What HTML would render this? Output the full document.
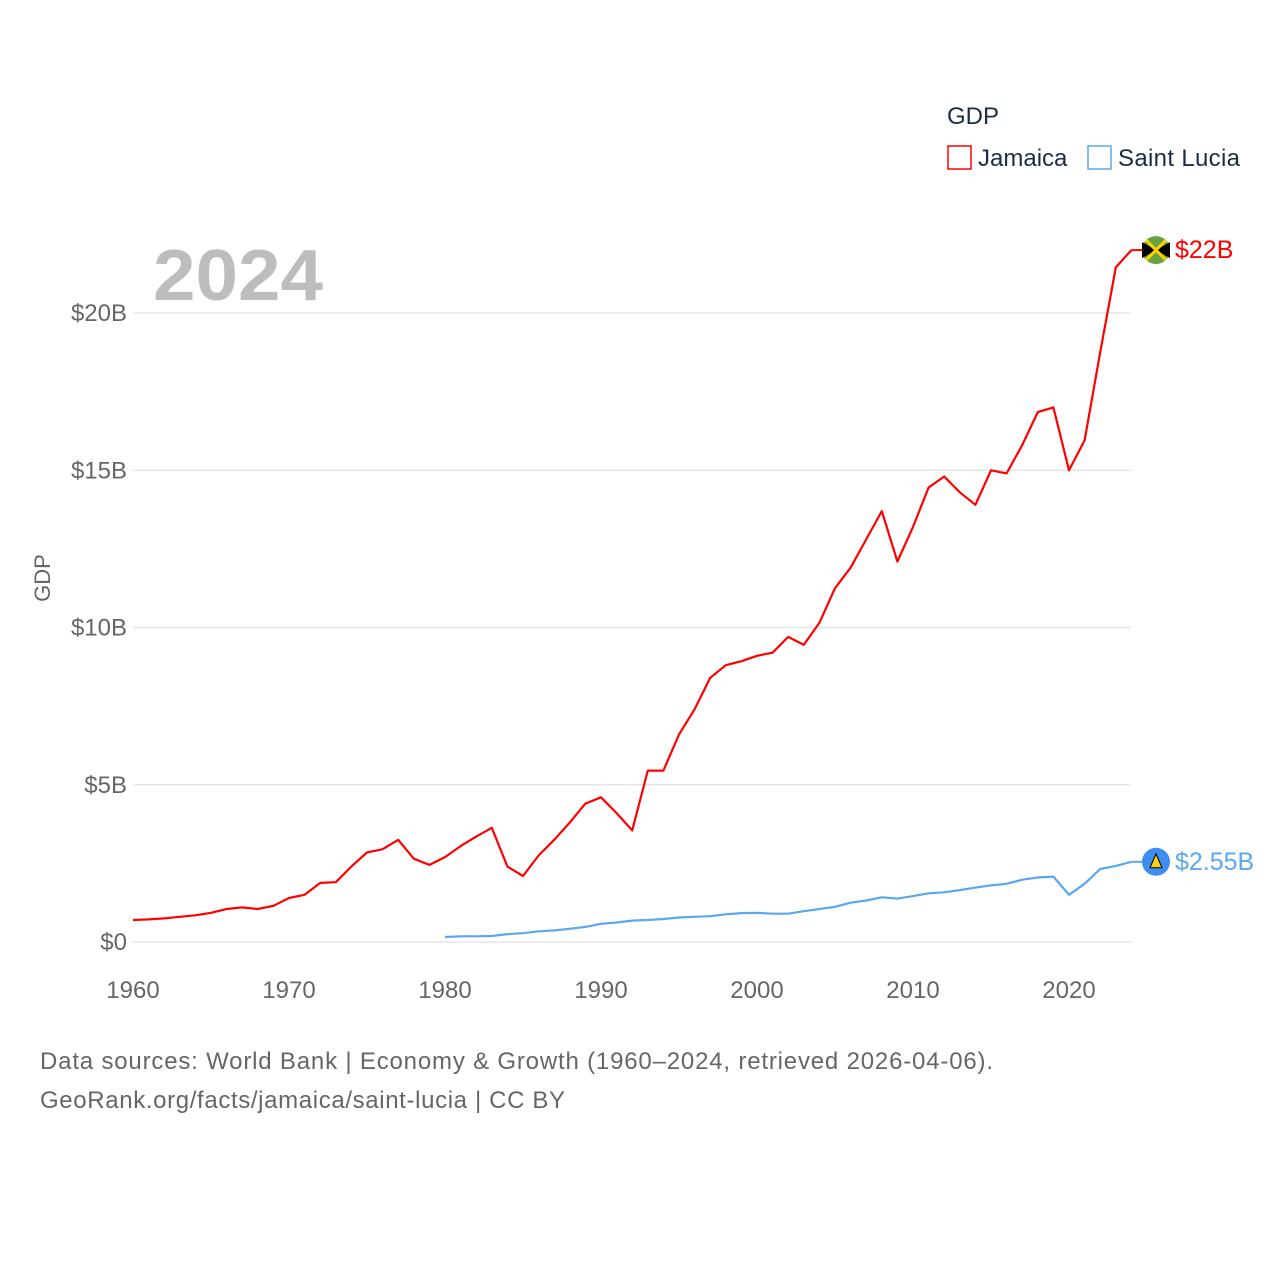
<!DOCTYPE html>
<html><head><meta charset="utf-8"><style>
body{margin:0;background:#fff;font-family:"Liberation Sans",sans-serif;}
svg text{font-family:"Liberation Sans",sans-serif;}
</style></head><body>
<svg width="1280" height="1280" viewBox="0 0 1280 1280">
<g id="grid"></g>
<g id="yt"></g>
<g id="xt"></g>
<text x="153" y="300" font-size="72" font-weight="bold" fill="#bdbdbd" textLength="170" lengthAdjust="spacingAndGlyphs">2024</text>
<text x="50" y="578" font-size="22" fill="#666" text-anchor="middle" transform="rotate(-90 50 578)">GDP</text>
<g id="lines"></g>
<text x="947" y="124" font-size="24" fill="#1c2b45">GDP</text>
<g><rect x="948" y="146" width="23" height="23" fill="none" stroke="#ff0000" stroke-width="1.5"/><text x="978" y="166" font-size="24" fill="#1c2b45">Jamaica</text></g>
<g><rect x="1088" y="146" width="23" height="23" fill="none" stroke="#5aa7f0" stroke-width="1.5"/><text x="1118" y="166" font-size="24" fill="#1c2b45" textLength="122">Saint Lucia</text></g>
<text x="40" y="1069" font-size="24" fill="#666" textLength="953">Data sources: World Bank | Economy &amp; Growth (1960–2024, retrieved 2026-04-06).</text>
<text x="40" y="1108" font-size="24" fill="#666" textLength="525">GeoRank.org/facts/jamaica/saint-lucia | CC BY</text>
</svg>
<script>
const jamaicaYears=[];for(let y=1960;y<=2024;y++)jamaicaYears.push(y);
const jamaica=[0.70,0.72,0.75,0.80,0.85,0.93,1.05,1.1,1.05,1.15,1.4,1.5,1.88,1.9,2.4,2.85,2.95,3.25,2.65,2.45,2.7,3.05,3.35,3.63,2.4,2.1,2.75,3.25,3.8,4.4,4.6,4.1,3.55,5.45,5.45,6.6,7.4,8.4,8.8,8.93,9.1,9.2,9.7,9.45,10.15,11.25,11.9,12.8,13.7,12.1,13.2,14.45,14.8,14.3,13.9,15.0,14.9,15.8,16.85,17.0,15.0,15.95,18.75,21.45,22.0];
const luciaYears=[];for(let y=1980;y<=2024;y++)luciaYears.push(y);
const lucia=[0.16,0.18,0.18,0.19,0.25,0.28,0.34,0.37,0.42,0.48,0.58,0.62,0.68,0.7,0.73,0.78,0.8,0.82,0.88,0.92,0.93,0.9,0.9,0.98,1.05,1.12,1.25,1.32,1.42,1.38,1.46,1.55,1.58,1.65,1.73,1.8,1.85,1.98,2.05,2.08,1.5,1.85,2.32,2.42,2.55];
const yTicks=[0,5,10,15,20];
const yTickLabels=["$0","$5B","$10B","$15B","$20B"];
const xTicks=[1960,1970,1980,1990,2000,2010,2020];
const NS="http://www.w3.org/2000/svg";
const X=y=>133+(y-1960)*15.6;
const Y=v=>942-v*31.45;
function mk(tag,attrs,parent){const e=document.createElementNS(NS,tag);for(const k in attrs)e.setAttribute(k,attrs[k]);parent.appendChild(e);return e;}
const grid=document.getElementById('grid'),yt=document.getElementById('yt'),xt=document.getElementById('xt'),lines=document.getElementById('lines');
yTicks.forEach((t,i)=>{
 const l=mk('line',{x1:133,x2:1131,y1:Y(t),y2:Y(t),stroke:'#e6e6e6','stroke-width':1.5},grid);
 
 
 const tx=mk('text',{x:127,y:Y(t)+8,'font-size':24,fill:'#666','text-anchor':'end'},yt);
 tx.textContent=yTickLabels[i];
 
 
});
xTicks.forEach(t=>{
 const tx=mk('text',{x:X(t),y:998,'font-size':24,fill:'#666','text-anchor':'middle'},xt);
 tx.textContent=t;
 
 
});
function line(years,vals,color,name){
 const d=vals.map((v,i)=>(i?'L':'M')+X(years[i]).toFixed(1)+','+Y(v).toFixed(1)).join('');
 const p=mk('path',{d:d,fill:'none',stroke:color,'stroke-width':2.2,'stroke-linejoin':'round'},lines);
 
 
}
line(jamaicaYears,jamaica,'#ff0000','jamaica-line');
line(luciaYears,lucia,'#5aa7f0','saint-lucia-line');
const jv=jamaica[jamaica.length-1], lv=lucia[lucia.length-1];
const g1=mk('g',{},lines);


mk('line',{x1:X(2024),x2:1142,y1:Y(jv),y2:Y(jv),stroke:'#ff0000','stroke-width':2},g1);
mk('circle',{cx:1156,cy:Y(jv),r:14,fill:'#6aa142'},g1);
mk('path',{d:`M1142,${Y(jv)-8} L1156,${Y(jv)} L1142,${Y(jv)+8}Z M1170,${Y(jv)-8} L1156,${Y(jv)} L1170,${Y(jv)+8}Z`,fill:'#000'},g1);
mk('path',{d:`M1146,${Y(jv)-10} L1166,${Y(jv)+10} M1166,${Y(jv)-10} L1146,${Y(jv)+10}`,stroke:'#fed100','stroke-width':3},g1);
const t1=mk('text',{x:1175,y:Y(jv)+8,'font-size':25,fill:'#ff0000'},g1);t1.textContent='$22B';
const g2=mk('g',{},lines);


mk('line',{x1:X(2024),x2:1142,y1:Y(lv),y2:Y(lv),stroke:'#5aa7f0','stroke-width':2},g2);
mk('circle',{cx:1156,cy:Y(lv),r:14,fill:'#3d8ef0'},g2);
mk('path',{d:`M1156,${Y(lv)-8} L1162,${Y(lv)+6} L1150,${Y(lv)+6}Z`,fill:'#fcd116',stroke:'#000','stroke-width':1},g2);
const t2=mk('text',{x:1175,y:Y(lv)+8,'font-size':25,fill:'#5aa7f0'},g2);t2.textContent='$2.55B';
</script>
</body></html>
